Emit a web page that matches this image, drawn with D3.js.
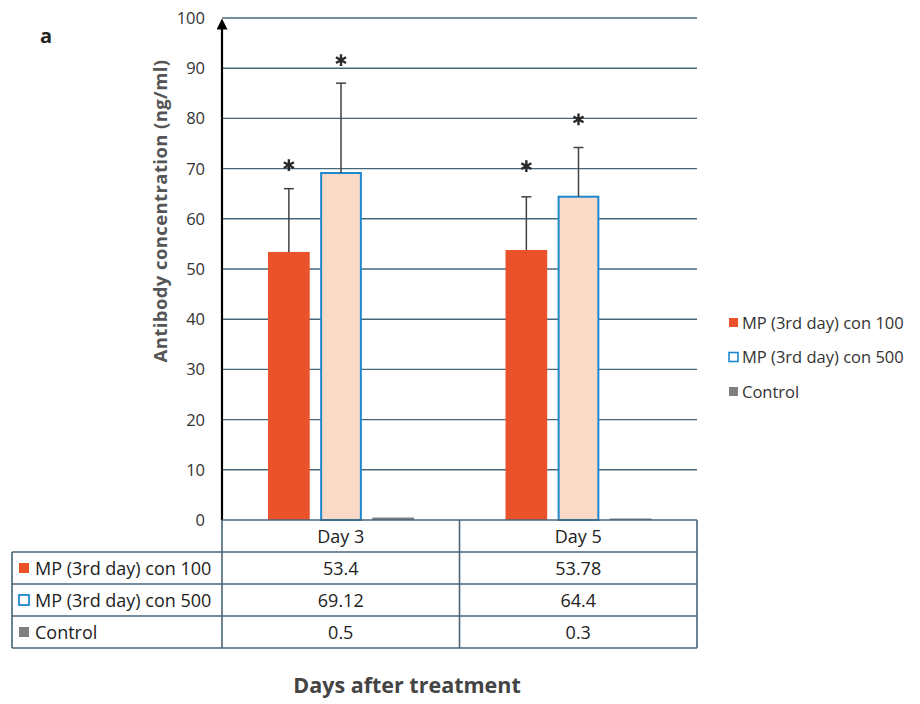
<!DOCTYPE html>
<html>
<head>
<meta charset="utf-8">
<script src="https://cdn.jsdelivr.net/npm/d3@7"></script>
<style>
  body { margin: 0; background: #fff; }
  svg { display: block; font-family: "Open Sans", Lato, sans-serif; }
</style>
</head>
<body>
<div id="chart"></div>
<script>
const days = ["Day 3", "Day 5"];
const seriesNames = ["MP (3rd day) con 100", "MP (3rd day) con 500", "Control"];
const con100 = [53.4, 53.78];
const con500 = [69.12, 64.4];
const control = [0.5, 0.3];
const con100Err = [12.6, 10.6];
const con500Err = [17.9, 9.8];
const controlErr = [0, 0];
// where the significance stars sit, in axis units (null = no star)
const con100Star = [70.7, 70.5];
const con500Star = [91.6, 79.8];
const controlStar = [null, null];
const yTicks = [0, 10, 20, 30, 40, 50, 60, 70, 80, 90, 100];

const series = [
  { name: seriesNames[0], values: con100, err: con100Err, star: con100Star, fill: "#e9522b", stroke: "none" },
  { name: seriesNames[1], values: con500, err: con500Err, star: con500Star, fill: "#f8dac6", stroke: "#1e88cf" },
  { name: seriesNames[2], values: control, err: controlErr, star: controlStar, fill: "#7f7f7f", stroke: "none" }
];

const W = 920, H = 704;
const plot = { left: 222, right: 697, top: 18, bottom: 520 };
const tableLeft = 12;
const rowH = 32;

const svg = d3.select("#chart").append("svg")
  .attr("width", W).attr("height", H);

const x = d3.scaleBand().domain(days).range([plot.left, plot.right]);
const xInner = d3.scaleBand().domain(seriesNames).range([46, 192]).paddingInner(0.2);
const y = d3.scaleLinear().domain([0, 100]).range([plot.bottom, plot.top]);

const gridColor = "#46667a";

// gridlines
svg.append("g")
  .selectAll("line")
  .data(yTicks.filter(d => d > 0))
  .enter().append("line")
  .attr("x1", plot.left).attr("x2", plot.right)
  .attr("y1", d => y(d)).attr("y2", d => y(d))
  .attr("stroke", gridColor).attr("stroke-width", 1.4);

// y tick labels
svg.append("g")
  .selectAll("text")
  .data(yTicks)
  .enter().append("text")
  .attr("x", 205).attr("y", d => y(d) + 6)
  .attr("text-anchor", "end")
  .attr("font-size", 16.5).attr("fill", "#333")
  .text(d => d);

// y axis title
svg.append("text")
  .attr("transform", "translate(167," + 211 + ") rotate(-90)")
  .attr("text-anchor", "middle")
  .attr("font-size", 18.5).attr("font-weight", 700).attr("fill", "#555")
  .attr("letter-spacing", 0.4)
  .text("Antibody concentration (ng/ml)");

// bars
const groups = svg.selectAll(".day")
  .data(days)
  .enter().append("g")
  .attr("class", "day")
  .attr("transform", d => "translate(" + x(d) + ",0)");

const star = d3.symbol(d3.symbolAsterisk, 95);

series.forEach(s => {
  groups.append("rect")
    .attr("x", xInner(s.name) + (s.stroke === "none" ? 0 : 1))
    .attr("width", xInner.bandwidth() - (s.stroke === "none" ? 0 : 2))
    .attr("y", (d, i) => y(s.values[i]))
    .attr("height", (d, i) => plot.bottom - y(s.values[i]))
    .attr("fill", s.fill)
    .attr("stroke", s.stroke === "none" ? null : s.stroke)
    .attr("stroke-width", 2);

  // error bars (upper only)
  const cx = xInner(s.name) + xInner.bandwidth() / 2;
  groups.filter((d, i) => s.err[i] > 0).append("line")
    .attr("x1", cx).attr("x2", cx)
    .attr("y1", d => y(s.values[days.indexOf(d)]))
    .attr("y2", d => { const i = days.indexOf(d); return y(s.values[i] + s.err[i]); })
    .attr("stroke", "#404040").attr("stroke-width", 1.5);
  groups.filter((d, i) => s.err[i] > 0).append("line")
    .attr("x1", cx - 5).attr("x2", cx + 5)
    .attr("y1", d => { const i = days.indexOf(d); return y(s.values[i] + s.err[i]); })
    .attr("y2", d => { const i = days.indexOf(d); return y(s.values[i] + s.err[i]); })
    .attr("stroke", "#404040").attr("stroke-width", 1.5);

  // significance stars
  groups.filter((d, i) => s.star[i] != null).append("path")
    .attr("d", star)
    .attr("transform", d => "translate(" + cx + "," + y(s.star[days.indexOf(d)]) + ")")
    .attr("fill", "none").attr("stroke", "#2a2a2a").attr("stroke-width", 2.4);
});

// y axis with arrow
svg.append("defs").append("marker")
  .attr("id", "arrow")
  .attr("viewBox", "0 0 10 10")
  .attr("refX", 5).attr("refY", 5)
  .attr("markerWidth", 5).attr("markerHeight", 5)
  .attr("orient", "auto")
  .append("path").attr("d", "M0,0 L10,5 L0,10 Z").attr("fill", "#000");
svg.append("line")
  .attr("x1", plot.left).attr("x2", plot.left)
  .attr("y1", plot.bottom).attr("y2", plot.top + 6)
  .attr("stroke", "#000").attr("stroke-width", 2.2)
  .attr("marker-end", "url(#arrow)");

// data table
const table = svg.append("g");
const tableTop = plot.bottom;
const tableBottom = tableTop + rowH * 4;
function tline(x1, y1, x2, y2) {
  table.append("line").attr("x1", x1).attr("y1", y1).attr("x2", x2).attr("y2", y2)
    .attr("stroke", gridColor).attr("stroke-width", 1.6);
}
tline(plot.left, tableTop, plot.right, tableTop);
for (let r = 1; r <= 4; r++) {
  tline(tableLeft, tableTop + r * rowH, plot.right, tableTop + r * rowH);
}
tline(tableLeft, tableTop + rowH, tableLeft, tableBottom);
tline(plot.left, tableTop, plot.left, tableBottom);
days.forEach(d => tline(x(d) + x.bandwidth(), tableTop, x(d) + x.bandwidth(), tableBottom));

// header
table.selectAll(".hdr").data(days).enter().append("text")
  .attr("x", d => x(d) + x.bandwidth() / 2)
  .attr("y", tableTop + rowH / 2 + 6.5)
  .attr("text-anchor", "middle")
  .attr("font-size", 18).attr("fill", "#222")
  .text(d => d);

series.forEach((s, r) => {
  const rowY = tableTop + (r + 1) * rowH;
  table.append("rect")
    .attr("x", 19).attr("y", rowY + rowH / 2 - 5)
    .attr("width", 10).attr("height", 10)
    .attr("fill", s.stroke === "none" ? s.fill : "#fff")
    .attr("stroke", s.stroke === "none" ? null : s.stroke)
    .attr("stroke-width", 1.8);
  table.append("text")
    .attr("x", 35).attr("y", rowY + rowH / 2 + 6.5)
    .attr("font-size", 18).attr("fill", "#222")
    .text(s.name);
  table.selectAll(null).data(days).enter().append("text")
    .attr("x", d => x(d) + x.bandwidth() / 2)
    .attr("y", rowY + rowH / 2 + 6.5)
    .attr("text-anchor", "middle")
    .attr("font-size", 18).attr("fill", "#222")
    .text((d, i) => s.values[i]);
});

// legend
const legend = svg.append("g").attr("transform", "translate(729,323)");
series.forEach((s, i) => {
  const g = legend.append("g").attr("transform", "translate(0," + i * 34.5 + ")");
  g.append("rect")
    .attr("x", 0).attr("y", -5).attr("width", 9).attr("height", 9)
    .attr("fill", s.stroke === "none" ? s.fill : "#fff")
    .attr("stroke", s.stroke === "none" ? null : s.stroke)
    .attr("stroke-width", 1.6);
  g.append("text")
    .attr("x", 13).attr("y", 5.5)
    .attr("font-size", 16.5).attr("fill", "#333")
    .text(s.name);
});

// x title
svg.append("text")
  .attr("x", 407).attr("y", 693)
  .attr("text-anchor", "middle")
  .attr("font-size", 21.5).attr("font-weight", 700).attr("fill", "#444")
  .text("Days after treatment");

// panel label
svg.append("text")
  .attr("x", 40).attr("y", 43)
  .attr("font-size", 20).attr("font-weight", 700).attr("fill", "#222")
  .text("a");
</script>
</body>
</html>
